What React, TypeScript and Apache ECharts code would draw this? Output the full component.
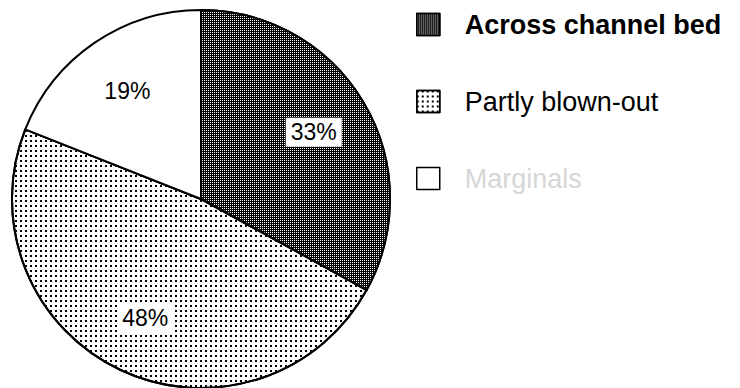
import React, { useEffect, useRef } from "react";
import * as echarts from "echarts";

// Share of each bed type, in percent, clockwise from 12 o'clock
const categories = ["Across channel bed", "Partly blown-out", "Marginals"];
const shares = [33, 48, 19];

const FONT = "'Liberation Sans', Arial, Helvetica, sans-serif";

export default function App() {
  const ref = useRef<HTMLDivElement>(null);

  useEffect(() => {
    if (!ref.current) return;
    const chart = echarts.init(ref.current, null, { renderer: "svg" });

    // halftone-like fills for the three slices
    const fills = [
      {
        color: "#000",
        decal: {
          symbol: "rect",
          symbolSize: 1,
          color: "#fff",
          dashArrayX: [1, 1],
          dashArrayY: [1, 1],
        },
      },
      {
        color: "#fff",
        decal: {
          symbol: "rect",
          symbolSize: 1,
          color: "#000",
          dashArrayX: [2, 3],
          dashArrayY: [2, 3],
        },
      },
      { color: "#fff" },
    ];

    const legendText = [
      { fontWeight: "bold", color: "#000" },
      { fontWeight: "normal", color: "#000" },
      { fontWeight: "normal", color: "#d6d6d6" },
    ];

    const center = [201, 199];

    chart.setOption({
      animation: false,
      backgroundColor: "#fff",
      legend: {
        orient: "vertical",
        left: 411,
        top: 6,
        icon: "rect",
        itemWidth: 23,
        itemHeight: 22,
        itemGap: 50,
        selectedMode: false,
        itemStyle: { borderColor: "#000", borderWidth: 1.5 },
        textStyle: {
          fontFamily: FONT,
          fontSize: 27,
          lineHeight: 27,
          padding: [0, 0, 0, 20],
        },
        data: categories.map((name, i) => ({
          name,
          textStyle: legendText[i],
        })),
      },
      series: [
        {
          type: "pie",
          center,
          radius: 189,
          startAngle: 90,
          clockwise: true,
          silent: true,
          label: { show: false },
          labelLine: { show: false },
          itemStyle: { borderColor: "#000", borderWidth: 2 },
          data: categories.map((name, i) => ({
            name,
            value: shares[i],
            itemStyle: fills[i],
          })),
        },
        {
          // transparent ring that carries the percentage labels
          type: "pie",
          center,
          radius: [121, 135],
          startAngle: 90,
          clockwise: true,
          silent: true,
          itemStyle: { color: "transparent", borderWidth: 0 },
          labelLine: { show: false },
          label: {
            show: true,
            position: "inside",
            formatter: (p: any) => `${p.value}%`,
            fontFamily: FONT,
            fontSize: 23,
            color: "#000",
            backgroundColor: "#fff",
            padding: [3, 5],
          },
          data: categories.map((name, i) => ({ name, value: shares[i] })),
        },
      ],
    });

    return () => chart.dispose();
  }, []);

  return (
    <div
      ref={ref}
      style={{ position: "fixed", left: 0, top: 0, width: 740, height: 388 }}
    />
  );
}
